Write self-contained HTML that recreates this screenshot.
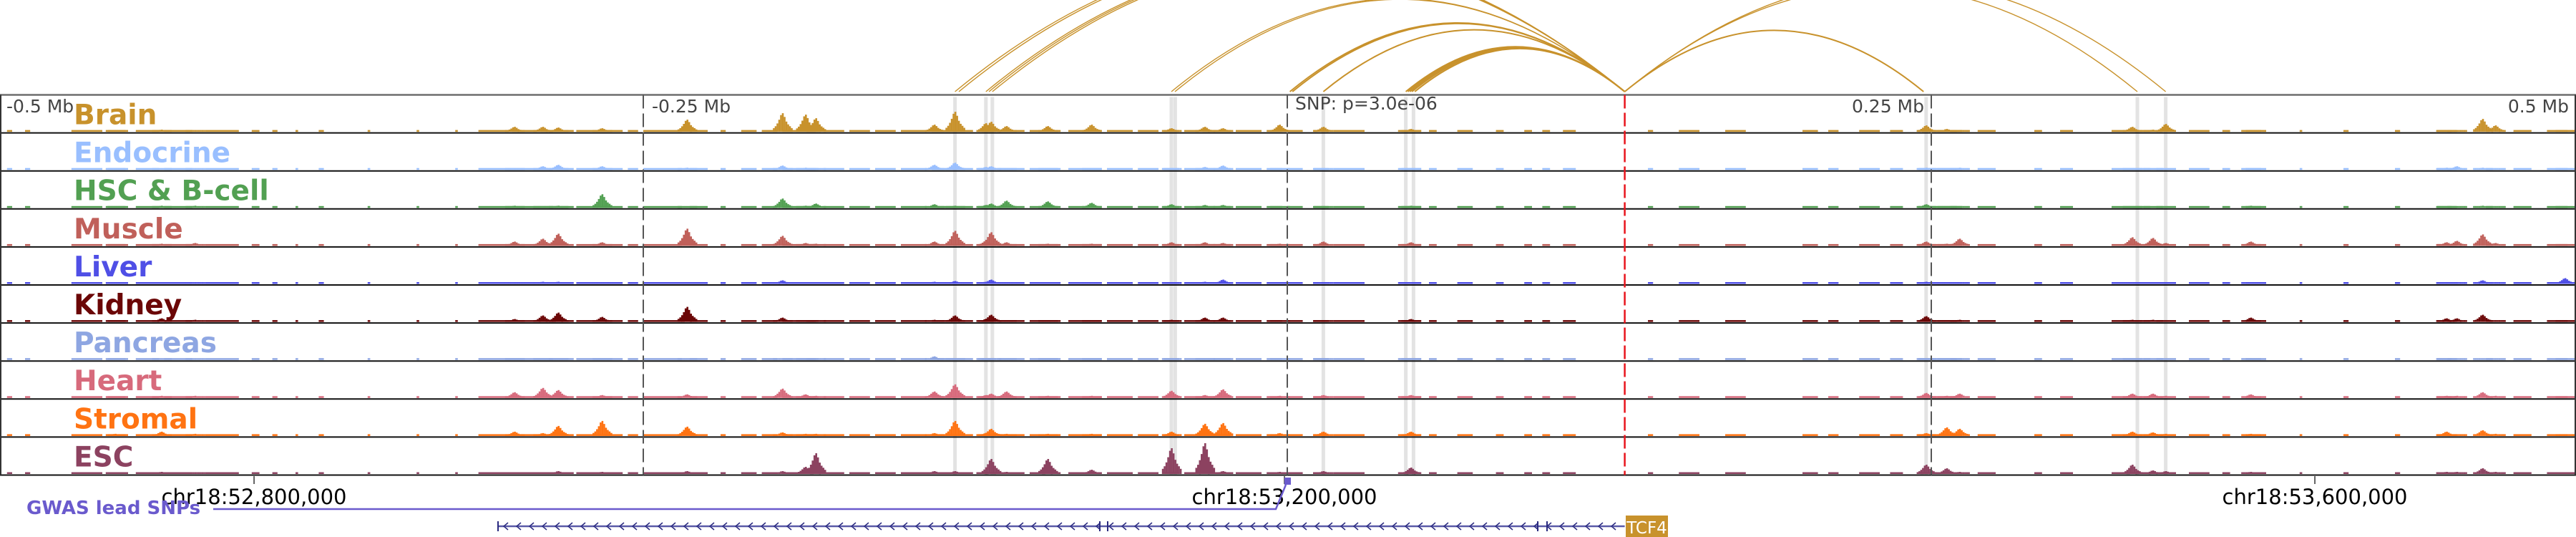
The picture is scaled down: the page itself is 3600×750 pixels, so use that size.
<!DOCTYPE html>
<html><head><meta charset="utf-8"><style>
html,body{margin:0;padding:0;background:#fff;}
svg{display:block;font-family:"DejaVu Sans","Liberation Sans",sans-serif;}
</style></head><body>
<svg id="chart" width="3600" height="750" viewBox="0 0 3600 750" xmlns="http://www.w3.org/2000/svg">
<g id="arcs"></g>
<g id="bands"></g>
<g id="tracks"></g>
<g id="overlay"></g>
<g id="bottom"></g>
</svg>
<script>
// ---- data ----
const trackNames = ["Brain","Endocrine","HSC & B-cell","Muscle","Liver","Kidney","Pancreas","Heart","Stromal","ESC"];
const trackColors = ["#c8922c","#99bfff","#52a052","#c0605a","#4f4fe6","#6b0606","#8ea6e2","#d76a7c","#ff7312","#8c4260"];
const peakPos = [-455,-437,-424,-300,-289,-283,-266,-233,-196,-187,-183,-137,-129,-117,-115,-109,-93,-76,-45,-32,-25,-3,14,48,248,256,261,328,336,341,374,450,454,464,469,496];
const brainVals    = [2,3,2,7,7,6,5,17,26,24,19,10,28,12,14,8,8,10,5,7,5,10,7,4,9,4,2,7,3,11,2,2,2,18,9,2];
const endocrineVals= [2,2,2,2,5,7,5,3,6,3,2,7,10,4,5,1,2,2,2,4,6,2,2,2,3,2,3,2,2,1,2,3,5,3,2,2];
const hscVals      = [2,3,3,3,2,3,19,2,13,3,6,5,3,4,6,10,9,7,5,4,4,2,2,3,5,2,2,2,2,2,3,2,2,3,2,2];
const muscleVals   = [2,3,4,6,10,17,5,24,14,4,3,6,21,7,19,5,3,3,5,5,4,3,6,5,6,3,10,12,11,4,6,5,7,16,4,2];
const liverVals    = [2,2,2,2,3,3,2,2,5,2,2,3,4,3,6,2,2,2,2,3,6,2,2,2,3,2,2,2,2,1,2,2,2,5,2,8];
const kidneyVals   = [2,5,3,4,9,13,7,21,6,2,2,3,9,4,10,2,2,2,3,6,6,2,2,4,8,2,3,3,3,2,6,5,5,10,2,2];
const pancreasVals = [1,2,2,1,2,2,2,2,2,1,1,5,2,2,2,1,1,1,1,2,2,1,1,1,2,1,2,1,2,1,1,1,2,2,1,2];
const heartVals    = [2,3,3,8,14,11,4,5,13,5,3,9,19,4,6,9,3,3,10,4,12,3,4,4,7,3,6,6,6,3,5,3,3,8,3,2];
const stromalVals  = [3,6,3,6,4,14,21,13,5,3,3,4,21,4,10,3,3,3,6,17,18,4,6,6,4,12,10,6,5,3,3,6,2,8,3,2];
const escVals      = [2,3,2,2,2,4,3,4,4,10,29,4,4,3,21,3,21,6,36,43,4,3,4,9,13,8,3,13,5,4,3,3,3,8,3,2];
const seriesVals = [brainVals,endocrineVals,hscVals,muscleVals,liverVals,kidneyVals,pancreasVals,heartVals,stromalVals,escVals];
// low-level accessible regions (kb start, kb end)
const bgStart = [-497,-490,-472,-458,-447,-436,-420,-402,-394,-385,-376,-357,-338,-323,-314,-276,-256,-250,-232,-220,-212,-204,-196,-180,-170,-160,-150,-138,-120,-112,-100,-85,-70,-58,-48,-40,-20,-8,0,10,18,43,55,66,81,92,99,107,140,152,170,200,210,222,234,245,268,290,300,320,350,363,372,393,410,430,446,476,489];
const bgEnd   = [-495,-488,-460,-450,-438,-425,-407,-399,-392,-384,-374,-356,-337,-322,-277,-258,-252,-235,-225,-218,-206,-198,-182,-172,-162,-152,-140,-122,-114,-102,-88,-72,-60,-50,-42,-22,-10,-2,6,16,30,52,58,72,84,95,102,112,142,160,178,206,214,230,239,262,275,293,305,335,358,366,380,394,412,432,452,483,497];
const arcStarts = [-129,-127.5,-117,-115.8,-114.5,-45,-43.6,1,2,14,46,46.8,47.6,48.4,49.5,247,330,341];
const arcEndKb = 131;
const axisTicks = [52800000,53200000,53600000];
const axisTickLabels = ["chr18:52,800,000","chr18:53,200,000","chr18:53,600,000"];
const relTicks = [-500,-250,250,500];
const relTickLabels = ["-0.5 Mb","-0.25 Mb","0.25 Mb","0.5 Mb"];
const bandKb = [-129,-117,-114.5,-45,-43.5,14,46,49,248,330,341];
const snpPos = 53201100;

// ---- scales ----
const NS = "http://www.w3.org/2000/svg";
const CX = 1799, PXKB = 3.6;
function xKb(kb){ return CX + kb*PXKB; }
function xBp(bp){ return CX + (bp - snpPos)/1000*PXKB; }
const TOP = 132.5, TH = 53.1;
function mk(tag, attrs, parent){ const e=document.createElementNS(NS,tag); for(const k in attrs) e.setAttribute(k,attrs[k]); parent.appendChild(e); return e; }

const arcsG=document.getElementById('arcs'), bandsG=document.getElementById('bands'), tracksG=document.getElementById('tracks'), ovG=document.getElementById('overlay'), botG=document.getElementById('bottom');

// arcs
const ax2 = xKb(arcEndKb), base=128;
arcStarts.forEach((s,i)=>{
  const x1=xKb(s); const span=Math.abs(ax2-x1); const h=0.205*span;
  const p=mk('path',{d:`M${x1.toFixed(1)} ${base} Q${((x1+ax2)/2).toFixed(1)} ${(base-2*h).toFixed(1)} ${ax2.toFixed(1)} ${base}`,fill:'none',stroke:'#c8922c','stroke-width':(span<500?2:1.4)},arcsG);
  
  
});

// highlight bands
bandKb.forEach(b=>{
  const r=mk('rect',{x:(xKb(b)-2.5).toFixed(1),y:TOP+3,width:5,height:664-TOP-3,fill:'#e3e3e3'},bandsG);
  
  
});

// peak cluster profile (relative offsets in px, relative heights)
const profOff = [-12,-9.5,-7,-4.5,-2,0.5,3,5.5,8,10.5,13];
const profH   = [0.2,0.3,0.45,0.65,0.9,1,0.8,0.55,0.4,0.3,0.2];

// tracks
trackNames.forEach((name,ti)=>{
  const g=mk('g',{},tracksG);
  
  
  const top=TOP+TH*ti, bot=top+TH-1.5, col=trackColors[ti];
  bgStart.forEach((s,j)=>{
    const x1=xKb(s), x2=xKb(bgEnd[j]);
    const r=mk('rect',{x:x1.toFixed(1),y:bot-2.5,width:(x2-x1).toFixed(1),height:2.5,fill:col},g);
    
    
  });
  seriesVals[ti].forEach((v,j)=>{
    const xc=xKb(peakPos[j]);
    profOff.forEach((o,k)=>{
      const h=Math.max(2.5,v*profH[k]);
      const r=mk('rect',{x:(xc+o-1.25).toFixed(1),y:(bot-h).toFixed(1),width:2.6,height:h.toFixed(1),fill:col},g);
      
      
    });
  });
  const ln=mk('line',{x1:0,x2:3600,y1:top+TH,y2:top+TH,stroke:'#111','stroke-width':2},g);
  
  
  const t=mk('text',{x:103,y:top+41,fill:col,'font-size':39,'font-weight':'bold'},g);
  t.textContent=name;
  
  
});

// top border & frame
const tb=mk('line',{x1:0,x2:3600,y1:TOP,y2:TOP,stroke:'#6e6e6e','stroke-width':2.5},ovG);
 
const lb=mk('line',{x1:1,x2:1,y1:TOP,y2:TOP+TH*10,stroke:'#333','stroke-width':2},ovG);
 
const rb=mk('line',{x1:3599,x2:3599,y1:TOP,y2:TOP+TH*10,stroke:'#333','stroke-width':2},ovG);
 

[-250,0,250].forEach(k=>{
  const l=mk('line',{x1:xKb(k),x2:xKb(k),y1:TOP,y2:TOP+TH*10,stroke:'#555','stroke-width':2,'stroke-dasharray':'19 7'},ovG);
  
  
});
const red=mk('line',{x1:xKb(arcEndKb),x2:xKb(arcEndKb),y1:TOP,y2:TOP+TH*10,stroke:'#e8141c','stroke-width':2.5,'stroke-dasharray':'19 6'},ovG);
 

relTicks.forEach((k,i)=>{
  const x=xKb(k); let anchor='end', tx=x-10;
  if(k===-500){anchor='start'; tx=9;}
  if(k===-250){anchor='start'; tx=x+12;}
  if(k===500){tx=3590;}
  const t=mk('text',{x:tx,y:157,'font-size':25,fill:'#444','text-anchor':anchor},ovG);
  t.textContent=relTickLabels[i];
  
  
});
const snpT=mk('text',{x:1810,y:153,'font-size':25,fill:'#444'},ovG);
snpT.textContent='SNP: p=3.0e-06';
 

axisTicks.forEach((bp,i)=>{
  const x=xBp(bp);
  const l=mk('line',{x1:x,x2:x,y1:665,y2:676,stroke:'#333','stroke-width':1.5},botG);
   
  const t=mk('text',{x:x,y:704,'font-size':29,fill:'#000','text-anchor':'middle'},botG);
  t.textContent=axisTickLabels[i];
   
});

const gw=mk('text',{x:37,y:718,'font-size':26,'font-weight':'bold',fill:'#6a5acd'},botG);
gw.textContent='GWAS lead SNPs';
 
const gl=mk('polyline',{points:`298,711 1783,711 1797,677`,fill:'none',stroke:'#6a5acd','stroke-width':2.5},botG);
 
const gs=mk('rect',{x:xBp(snpPos)-4,y:667,width:9,height:10,fill:'#6a5acd'},botG);
 

const gx1=696, gx2=xKb(arcEndKb), gy=735;
const gln=mk('line',{x1:gx1,x2:gx2,y1:gy,y2:gy,stroke:'#5a5aa8','stroke-width':2.5},botG);
 
let chev='';
for(let x=gx1+8;x<gx2-10;x+=18){ chev+=`M${x+6} ${gy-5} L${x} ${gy} L${x+6} ${gy+5} `; }
const ch=mk('path',{d:chev,fill:'none',stroke:'#2a2a80','stroke-width':1.5},botG);
 
[696,1537,1548,2149,2162].forEach(x=>{
  const e=mk('line',{x1:x,x2:x,y1:gy-7,y2:gy+7,stroke:'#2a2a80','stroke-width':2},botG);
   
});
const box=mk('rect',{x:2272,y:720,width:59,height:30,fill:'#c8922c'},botG);
 
const gt=mk('text',{x:2301.5,y:745,'font-size':23,fill:'#fff','text-anchor':'middle'},botG);
gt.textContent='TCF4';
 
</script>
</body></html>
